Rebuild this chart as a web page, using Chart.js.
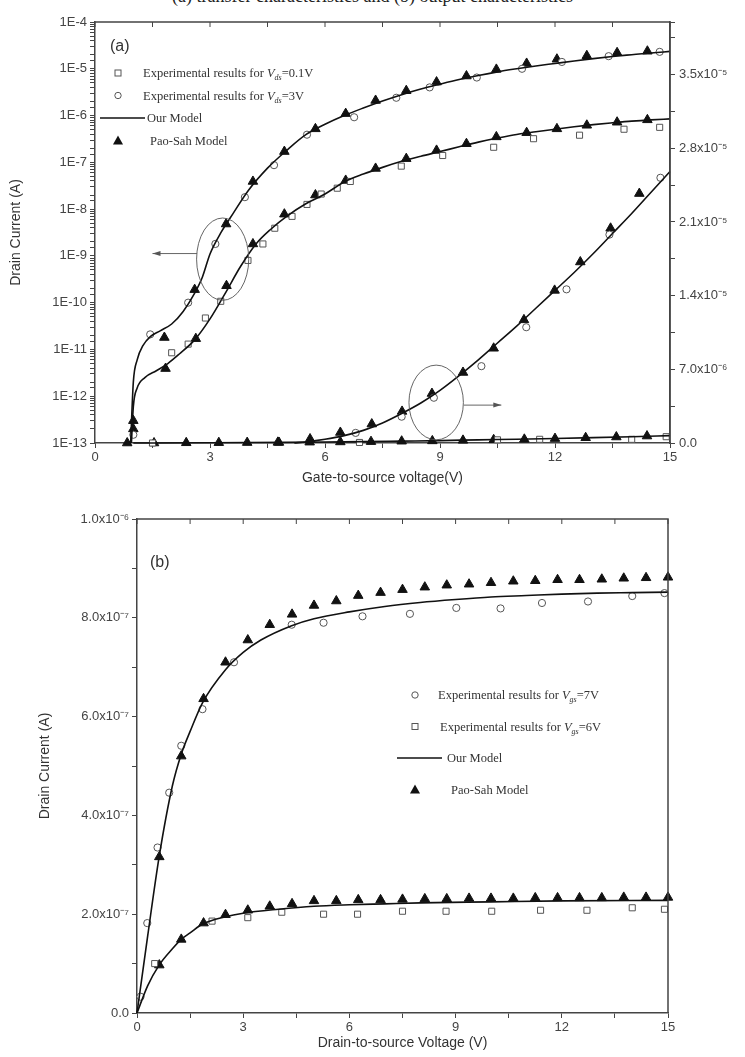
<!DOCTYPE html>
<html>
<head>
<meta charset="utf-8">
<script src="https://cdn.jsdelivr.net/npm/chart.js@4.4.1/dist/chart.umd.min.js"></script>
<style>
  body { margin: 0; background: #fff; width: 745px; height: 1057px; position: relative; overflow: hidden; }
  #cap { position: absolute; top: -14px; left: 0; width: 745px; text-align: center;
         font: 18px "Liberation Serif", serif; color: #222; white-space: nowrap; }
  #ca { position: absolute; left: 0; top: 0; }
  #cb { position: absolute; left: 0; top: 500px; }
</style>
</head>
<body>
<div id="cap">(a) transfer characteristics and (b) output characteristics</div>
<canvas id="ca" width="745" height="500"></canvas>
<canvas id="cb" width="745" height="557"></canvas>
<script>
// ---------- (a) transfer characteristics, left log axis (A) ----------
const modelHiV = [0.93, 1.0, 1.1, 1.25, 1.45, 1.7, 2.0, 2.3, 2.6, 2.8, 3.0, 3.3, 3.6, 4.0, 4.5, 5.0, 5.5, 6.0, 6.5, 7.0, 7.5, 8.0, 8.5, 9.0, 9.5, 10, 10.5, 11, 11.5, 12, 12.5, 13, 13.5, 14, 14.5, 15];
const modelHiI = [1e-13, 2e-12, 6e-12, 1.2e-11, 1.9e-11, 2.5e-11, 3.5e-11, 6.5e-11, 1.6e-10, 3.5e-10, 1.1e-9, 3.3e-9, 8e-9, 2.5e-8, 7.5e-8, 1.8e-7, 3.9e-7, 6.5e-7, 1.0e-6, 1.45e-6, 2.05e-6, 2.8e-6, 3.7e-6, 4.7e-6, 5.9e-6, 7.2e-6, 8.6e-6, 1.0e-5, 1.15e-5, 1.3e-5, 1.47e-5, 1.65e-5, 1.83e-5, 2.0e-5, 2.18e-5, 2.35e-5];
const modelLoV = [0.95, 1.0, 1.1, 1.3, 1.6, 1.9, 2.2, 2.6, 3.0, 3.4, 3.8, 4.2, 4.6, 5.0, 5.5, 6.0, 6.5, 7.0, 7.5, 8.0, 8.5, 9.0, 9.5, 10, 10.5, 11, 11.5, 12, 12.5, 13, 13.5, 14, 14.5, 15];
const modelLoI = [1e-13, 6e-13, 1.5e-12, 2.5e-12, 3.5e-12, 5e-12, 8e-12, 1.6e-11, 4.5e-11, 1.6e-10, 6e-10, 1.8e-9, 3.8e-9, 7e-9, 1.3e-8, 2.1e-8, 3.8e-8, 5.6e-8, 7.8e-8, 1.05e-7, 1.35e-7, 1.7e-7, 2.15e-7, 2.7e-7, 3.3e-7, 3.95e-7, 4.5e-7, 5.1e-7, 5.75e-7, 6.4e-7, 7.0e-7, 7.6e-7, 8.1e-7, 8.5e-7];
const paoHiV = [1.0, 1.81, 2.6, 3.42, 4.12, 4.94, 5.75, 6.54, 7.32, 8.12, 8.91, 9.69, 10.47, 11.26, 12.05, 12.83, 13.62, 14.41];
const paoHiI = [3e-13, 1.8e-11, 1.9e-10, 4.8e-9, 3.9e-8, 1.7e-7, 5.2e-7, 1.1e-6, 2.1e-6, 3.4e-6, 5.2e-6, 7.0e-6, 9.7e-6, 1.3e-5, 1.6e-5, 1.9e-5, 2.2e-5, 2.37e-5];
const paoLoV = [1.0, 1.84, 2.63, 3.43, 4.12, 4.94, 5.75, 6.54, 7.32, 8.12, 8.91, 9.69, 10.47, 11.26, 12.05, 12.83, 13.62, 14.41];
const paoLoI = [2e-13, 3.9e-12, 1.7e-11, 2.3e-10, 1.8e-9, 7.8e-9, 2.0e-8, 4.1e-8, 7.4e-8, 1.2e-7, 1.8e-7, 2.5e-7, 3.5e-7, 4.3e-7, 5.2e-7, 6.2e-7, 7.2e-7, 8.1e-7];
const expHiV = [1.0, 1.44, 2.43, 3.14, 3.91, 4.67, 5.53, 6.76, 7.86, 8.73, 9.96, 11.14, 12.18, 13.4, 14.73];
const expHiI = [1.5e-13, 2.1e-11, 1.0e-10, 1.8e-9, 1.8e-8, 8.7e-8, 3.9e-7, 9.2e-7, 2.4e-6, 4.0e-6, 6.5e-6, 1.0e-5, 1.4e-5, 1.86e-5, 2.3e-5];
const expLoV = [2.0, 2.43, 2.88, 3.28, 3.99, 4.38, 4.69, 5.14, 5.53, 5.9, 6.32, 6.66, 7.99, 9.07, 10.4, 11.44, 12.64, 13.8, 14.73];
const expLoI = [8.5e-12, 1.3e-11, 4.7e-11, 1.07e-10, 8e-10, 1.8e-9, 3.9e-9, 7e-9, 1.26e-8, 2.1e-8, 2.8e-8, 3.9e-8, 8.3e-8, 1.4e-7, 2.1e-7, 3.2e-7, 3.8e-7, 5.1e-7, 5.6e-7];

// ---------- (a) right linear axis, values in units of 1e-5 A ----------
const rModelHiV = [5.2, 5.5, 6, 6.5, 7, 7.5, 8, 8.5, 9, 9.5, 10, 10.5, 11, 11.5, 12, 12.5, 13, 13.5, 14, 14.5, 15];
const rModelHiI = [0, 0.01, 0.035, 0.07, 0.12, 0.19, 0.28, 0.38, 0.5, 0.64, 0.79, 0.95, 1.11, 1.28, 1.45, 1.62, 1.8, 1.99, 2.18, 2.38, 2.58];
const rModelLoV = [1, 3, 5, 6, 7, 8, 9, 10, 11, 12, 13, 14, 15];
const rModelLoI = [0, 0.002, 0.006, 0.009, 0.013, 0.018, 0.023, 0.03, 0.036, 0.043, 0.051, 0.06, 0.07];
const rPaoHiV = [4.8, 5.61, 6.4, 7.22, 8.01, 8.79, 9.6, 10.4, 11.19, 11.99, 12.66, 13.45, 14.2];
const rPaoHiI = [0.005, 0.038, 0.10, 0.18, 0.30, 0.47, 0.67, 0.90, 1.17, 1.45, 1.72, 2.04, 2.37];
const rPaoLoV = [0.84, 1.54, 2.38, 3.23, 3.97, 4.77, 5.6, 6.4, 7.2, 8.0, 8.8, 9.6, 10.4, 11.2, 12.0, 12.8, 13.6, 14.4];
const rPaoLoI = [0, 0, 0.002, 0.003, 0.004, 0.006, 0.008, 0.01, 0.013, 0.017, 0.02, 0.025, 0.03, 0.035, 0.042, 0.05, 0.057, 0.066];
const rExpHiV = [6.8, 8.0, 8.84, 10.08, 11.25, 12.3, 13.42, 14.75];
const rExpHiI = [0.096, 0.25, 0.43, 0.73, 1.10, 1.46, 1.98, 2.52];
const rExpLoV = [1.5, 6.9, 10.5, 11.6, 14.0, 14.9];
const rExpLoI = [0, 0.005, 0.03, 0.035, 0.035, 0.06];

// ---------- (b) output characteristics, values in units of 1e-7 A ----------
const bModelHiV = [0, 0.3, 0.625, 1.0, 1.25, 1.5, 1.85, 2.5, 3, 3.5, 4.37, 5, 6, 7, 8, 9, 10, 11, 12, 13, 14, 15];
const bModelHiI = [0, 1.55, 3.16, 4.6, 5.24, 5.7, 6.28, 6.95, 7.3, 7.55, 7.84, 7.98, 8.12, 8.23, 8.31, 8.37, 8.42, 8.45, 8.48, 8.5, 8.51, 8.52];
const bModelLoV = [0, 0.3, 0.625, 1.0, 1.25, 1.5, 1.85, 2.5, 3, 4, 5, 6, 7, 8, 10, 12, 15];
const bModelLoI = [0, 0.55, 0.97, 1.3, 1.49, 1.62, 1.8, 1.95, 2.02, 2.1, 2.16, 2.19, 2.21, 2.23, 2.25, 2.27, 2.28];
const bPaoV = [0.63, 1.25, 1.88, 2.5, 3.13, 3.75, 4.38, 5.0, 5.63, 6.25, 6.88, 7.5, 8.13, 8.75, 9.38, 10.0, 10.63, 11.25, 11.88, 12.5, 13.13, 13.75, 14.38, 15.0];
const bPaoHiI = [3.16, 5.2, 6.36, 7.1, 7.55, 7.86, 8.07, 8.25, 8.34, 8.45, 8.51, 8.57, 8.62, 8.66, 8.68, 8.71, 8.74, 8.75, 8.77, 8.77, 8.78, 8.8, 8.81, 8.82];
const bPaoLoI = [0.97, 1.49, 1.82, 1.99, 2.08, 2.16, 2.21, 2.27, 2.27, 2.29, 2.29, 2.3, 2.31, 2.31, 2.32, 2.32, 2.32, 2.33, 2.33, 2.33, 2.33, 2.34, 2.34, 2.34];
const bExpHiV = [0.1, 0.29, 0.58, 0.91, 1.25, 1.85, 2.74, 4.37, 5.27, 6.37, 7.71, 9.02, 10.27, 11.44, 12.74, 13.99, 14.9];
const bExpHiI = [0.33, 1.82, 3.35, 4.46, 5.41, 6.15, 7.10, 7.86, 7.9, 8.03, 8.08, 8.2, 8.19, 8.3, 8.33, 8.44, 8.5];
const bExpLoV = [0.5, 2.12, 3.13, 4.09, 5.27, 6.23, 7.5, 8.73, 10.02, 11.4, 12.71, 13.99, 14.9];
const bExpLoI = [1.0, 1.86, 1.93, 2.04, 2.0, 2.0, 2.06, 2.06, 2.06, 2.08, 2.08, 2.13, 2.1];

const pts = (xs, ys, k = 1) => xs.map((x, i) => ({ x: x, y: ys[i] * k }));

const SUP = { '-': '\u207B', '0': '\u2070', '1': '\u00B9', '2': '\u00B2', '3': '\u00B3', '4': '\u2074', '5': '\u2075', '6': '\u2076', '7': '\u2077', '8': '\u2078', '9': '\u2079' };
function sci(v) {
  if (Math.abs(v) < 1e-15) return '0.0';
  let e = Math.floor(Math.log10(v) + 1e-9);
  let m = v / Math.pow(10, e);
  if (m >= 9.95) { m /= 10; e++; }
  return m.toFixed(1) + 'x10' + String(e).split('').map(c => SUP[c]).join('');
}

const INK = '#444';
const TICK_FONT = { family: 'Liberation Sans, Arial, sans-serif', size: 13 };
const TITLE_FONT = { family: 'Liberation Sans, Arial, sans-serif', size: 14 };

const lineDs = (data, axis) => ({ data: data, yAxisID: axis, showLine: true, pointRadius: 0, borderColor: '#111', borderWidth: 1.6, cubicInterpolationMode: 'monotone', fill: false });
const triDs = (data, axis) => ({ data: data, yAxisID: axis, showLine: false, pointStyle: 'triangle', pointRadius: 5.5, backgroundColor: '#111', borderColor: '#111', borderWidth: 1 });
const cirDs = (data, axis) => ({ data: data, yAxisID: axis, showLine: false, pointStyle: 'circle', pointRadius: 3.6, backgroundColor: '#fff', borderColor: '#555', borderWidth: 1 });
const sqDs = (data, axis) => ({ data: data, yAxisID: axis, showLine: false, pointStyle: 'rect', pointRadius: 4.3, backgroundColor: '#fff', borderColor: '#555', borderWidth: 1 });

function marker(ctx, type, x, y) {
  ctx.save();
  ctx.lineWidth = 1; ctx.strokeStyle = '#555'; ctx.fillStyle = '#fff';
  if (type === 'rect') { ctx.fillRect(x - 3, y - 3, 6, 6); ctx.strokeRect(x - 3, y - 3, 6, 6); }
  else if (type === 'circle') { ctx.beginPath(); ctx.arc(x, y, 3.2, 0, Math.PI * 2); ctx.fill(); ctx.stroke(); }
  else if (type === 'triangle') {
    ctx.fillStyle = '#111'; ctx.beginPath();
    ctx.moveTo(x, y - 5); ctx.lineTo(x + 5, y + 4); ctx.lineTo(x - 5, y + 4); ctx.closePath(); ctx.fill();
  }
  ctx.restore();
}
function richText(ctx, parts, x, y) {
  let cx = x;
  ctx.fillStyle = '#333'; ctx.textBaseline = 'alphabetic'; ctx.textAlign = 'left';
  for (const p of parts) {
    if (typeof p === 'string') {
      ctx.font = '12.5px "Liberation Serif", serif'; ctx.fillText(p, cx, y); cx += ctx.measureText(p).width;
    } else {
      ctx.font = 'italic 12.5px "Liberation Serif", serif'; ctx.fillText(p.v, cx, y); cx += ctx.measureText(p.v).width;
      ctx.font = 'italic 8px "Liberation Serif", serif'; ctx.fillText(p.s, cx, y + 3); cx += ctx.measureText(p.s).width;
    }
  }
}
function drawLegend(ctx, items, mx, y0, gap) {
  items.forEach((it, i) => {
    const y = y0 + i * gap;
    if (it.type === 'line') {
      ctx.save(); ctx.strokeStyle = '#111'; ctx.lineWidth = 1.6;
      ctx.beginPath(); ctx.moveTo(mx - 18, y); ctx.lineTo(mx + 27, y); ctx.stroke(); ctx.restore();
    } else marker(ctx, it.type, mx, y);
    richText(ctx, it.parts, mx + it.dx, y + 4);
  });
}
function frame(chart) {
  const { ctx, chartArea: a, scales: { x } } = chart;
  ctx.save();
  ctx.strokeStyle = INK; ctx.lineWidth = 1.5;
  ctx.beginPath(); ctx.moveTo(a.left, a.top); ctx.lineTo(a.right, a.top); ctx.lineTo(a.right, a.bottom); ctx.stroke();
  ctx.lineWidth = 1;
  x.ticks.forEach(t => {
    const px = x.getPixelForValue(t.value);
    ctx.beginPath(); ctx.moveTo(px, a.top); ctx.lineTo(px, a.top + 5); ctx.stroke();
  });
  ctx.restore();
}
function arrow(ctx, x1, y1, x2, y2) {
  ctx.beginPath(); ctx.moveTo(x1, y1); ctx.lineTo(x2, y2); ctx.stroke();
  const d = Math.sign(x2 - x1);
  ctx.beginPath(); ctx.moveTo(x2, y2); ctx.lineTo(x2 - d * 8, y2 - 2.5); ctx.lineTo(x2 - d * 8, y2 + 2.5); ctx.closePath(); ctx.fill();
}

const decorA = {
  id: 'decorA',
  afterDatasetsDraw(chart) {
    const { ctx, scales: { x, y, y2 } } = chart;
    frame(chart);
    ctx.save();
    ctx.strokeStyle = '#555'; ctx.fillStyle = '#555'; ctx.lineWidth = 0.9;
    // left ellipse, pointing to the log axis
    let cx = x.getPixelForValue(3.33), cy = y.getPixelForValue(Math.pow(10, -9.07));
    let rx = cx - x.getPixelForValue(2.65), ry = y.getPixelForValue(Math.pow(10, -9.95)) - cy;
    ctx.beginPath(); ctx.ellipse(cx, cy, rx, ry, 0, 0, Math.PI * 2); ctx.stroke();
    const ay = y.getPixelForValue(Math.pow(10, -8.95));
    arrow(ctx, x.getPixelForValue(2.66), ay, x.getPixelForValue(1.5), ay);
    // right ellipse, pointing to the linear axis
    cx = x.getPixelForValue(8.9); cy = y2.getPixelForValue(0.385e-5);
    rx = x.getPixelForValue(9.61) - cx; ry = y2.getPixelForValue(0.03e-5) - cy;
    ctx.beginPath(); ctx.ellipse(cx, cy, rx, ry, 0, 0, Math.PI * 2); ctx.stroke();
    const by = y2.getPixelForValue(0.36e-5);
    arrow(ctx, x.getPixelForValue(9.62), by, x.getPixelForValue(10.6), by);
    ctx.restore();
    ctx.save();
    ctx.fillStyle = '#333'; ctx.font = '16px "Liberation Sans", Arial, sans-serif';
    ctx.fillText('(a)', 110, 51);
    drawLegend(ctx, [
      { type: 'rect', dx: 25, parts: ['Experimental results for ', { v: 'V', s: 'ds' }, '=0.1V'] },
      { type: 'circle', dx: 25, parts: ['Experimental results for ', { v: 'V', s: 'ds' }, '=3V'] },
      { type: 'line', dx: 29, parts: ['Our Model'] },
      { type: 'triangle', dx: 32, parts: ['Pao-Sah Model'] }
    ], 118, 73, 22.5);
    ctx.restore();
  }
};
const decorB = {
  id: 'decorB',
  afterDatasetsDraw(chart) {
    const { ctx } = chart;
    frame(chart);
    ctx.save();
    ctx.fillStyle = '#333'; ctx.font = '16px "Liberation Sans", Arial, sans-serif';
    ctx.fillText('(b)', 150, 67);
    drawLegend(ctx, [
      { type: 'circle', dx: 23, parts: ['Experimental results for ', { v: 'V', s: 'gs' }, '=7V'] },
      { type: 'rect', dx: 25, parts: ['Experimental results for ', { v: 'V', s: 'gs' }, '=6V'] },
      { type: 'line', dx: 32, parts: ['Our Model'] },
      { type: 'triangle', dx: 36, parts: ['Pao-Sah Model'] }
    ], 415, 195, 31.5);
    ctx.restore();
  }
};

const axisBase = {
  grid: { drawOnChartArea: false, drawTicks: true, tickLength: 5, color: INK },
  border: { color: INK, width: 1.5 },
};
const xAxis = (h, text) => Object.assign({}, axisBase, {
  type: 'linear', min: 0, max: 15,
  afterFit: s => { s.height = h; },
  ticks: { stepSize: 1.5, maxTicksLimit: 20, autoSkip: false, maxRotation: 0, color: INK, font: TICK_FONT, padding: 2,
    callback: v => Math.abs(v / 3 - Math.round(v / 3)) < 1e-6 ? String(Math.round(v)) : '' },
  title: { display: true, text: text, color: '#333', font: TITLE_FONT, padding: { top: 0, bottom: 1 } }
});

const chartA = new Chart(document.getElementById('ca'), {
  type: 'scatter',
  data: {
    datasets: [
      lineDs(pts(modelHiV, modelHiI), 'y'),
      lineDs(pts(modelLoV, modelLoI), 'y'),
      lineDs(pts(rModelHiV, rModelHiI, 1e-5), 'y2'),
      lineDs(pts(rModelLoV, rModelLoI, 1e-5), 'y2'),
      sqDs(pts(expLoV, expLoI), 'y'),
      sqDs(pts(rExpLoV, rExpLoI, 1e-5), 'y2'),
      cirDs(pts(expHiV, expHiI), 'y'),
      cirDs(pts(rExpHiV, rExpHiI, 1e-5), 'y2'),
      triDs(pts(paoHiV, paoHiI), 'y'),
      triDs(pts(paoLoV, paoLoI), 'y'),
      triDs(pts(rPaoHiV, rPaoHiI, 1e-5), 'y2'),
      triDs(pts(rPaoLoV, rPaoLoI, 1e-5), 'y2')
    ]
  },
  options: {
    responsive: false, animation: false, clip: false,
    layout: { padding: { top: 22, left: 4, right: 0, bottom: 12 } },
    plugins: { legend: { display: false }, tooltip: { enabled: false } },
    scales: {
      x: xAxis(45, 'Gate-to-source voltage(V)'),
      y: Object.assign({}, axisBase, {
        type: 'logarithmic', position: 'left', min: 1e-13, max: 1e-4,
        afterFit: s => { s.width = 91; },
        ticks: { autoSkip: false, color: INK, font: TICK_FONT, padding: 3,
          callback: v => {
            const e = Math.log10(v);
            return Math.abs(e - Math.round(e)) < 1e-6 ? '1E' + Math.round(e) : '';
          } },
        title: { display: true, text: 'Drain Current (A)', color: '#333', font: TITLE_FONT }
      }),
      y2: Object.assign({}, axisBase, {
        type: 'linear', position: 'right', min: 0, max: 4e-5,
        afterFit: s => { s.width = 75; },
        ticks: { stepSize: 3.5e-6, maxTicksLimit: 20, autoSkip: false, color: INK, font: TICK_FONT, padding: 4,
          callback: v => (v < 3.6e-5 && Math.round(v / 3.5e-6) % 2 === 0) ? sci(v) : '' }
      })
    }
  },
  plugins: [decorA]
});

const chartB = new Chart(document.getElementById('cb'), {
  type: 'scatter',
  data: {
    datasets: [
      lineDs(pts(bModelHiV, bModelHiI, 1e-7), 'y'),
      lineDs(pts(bModelLoV, bModelLoI, 1e-7), 'y'),
      cirDs(pts(bExpHiV, bExpHiI, 1e-7), 'y'),
      sqDs(pts(bExpLoV, bExpLoI, 1e-7), 'y'),
      triDs(pts(bPaoV, bPaoHiI, 1e-7), 'y'),
      triDs(pts(bPaoV, bPaoLoI, 1e-7), 'y')
    ]
  },
  options: {
    responsive: false, animation: false, clip: false,
    layout: { padding: { top: 19, left: 33, right: 77, bottom: 4 } },
    plugins: { legend: { display: false }, tooltip: { enabled: false } },
    scales: {
      x: xAxis(40, 'Drain-to-source Voltage (V)'),
      y: Object.assign({}, axisBase, {
        type: 'linear', position: 'left', min: 0, max: 1e-6,
        afterFit: s => { s.width = 104; },
        ticks: { stepSize: 1e-7, maxTicksLimit: 20, autoSkip: false, color: INK, font: TICK_FONT, padding: 3,
          callback: v => Math.round(v / 1e-7) % 2 === 0 ? sci(v) : '' },
        title: { display: true, text: 'Drain Current (A)', color: '#333', font: TITLE_FONT }
      })
    }
  },
  plugins: [decorB]
});
</script>
</body>
</html>
